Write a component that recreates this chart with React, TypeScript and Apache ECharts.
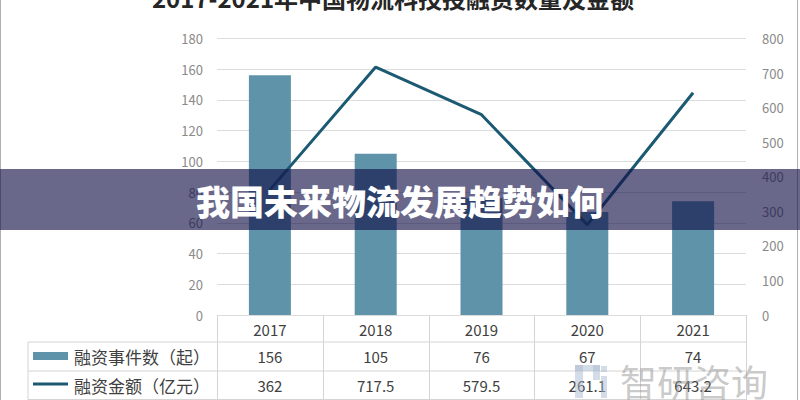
import React, { useEffect, useRef } from "react";
import * as echarts from "echarts";

const categories = ["2017", "2018", "2019", "2020", "2021"];
const eventCounts = [156, 105, 76, 67, 74];
const amounts = [362, 717.5, 579.5, 261.1, 643.2];
const amountLabels = ["362", "717.5", "579.5", "261.1", "643.2"];
const seriesNames = ["融资事件数（起）", "融资金额（亿元）"];
const titleText = "2017-2021年中国物流科技投融资数量及金额";
const bannerText = "我国未来物流发展趋势如何";
const watermarkText = "智研咨询";

const BAR_COLOR = "#5e93aa";
const LINE_COLOR = "#1b5a72";
const TABLE_LINE = "#d4d4d4";
const TEXT_COLOR = "#404040";
const FONT = "'Noto Sans CJK SC', 'Noto Sans', sans-serif";

export default function App() {
  const ref = useRef<HTMLDivElement>(null);
  useEffect(() => {
    if (!ref.current) return;
    const chart = echarts.init(ref.current, undefined, { renderer: "svg" });
    chart.setOption({
      animation: false,
      backgroundColor: "#ffffff",
      grid: { left: 217, right: 54, top: 38.5, bottom: 85, containLabel: false },
      xAxis: {
        type: "category",
        data: categories,
        axisLine: { show: false },
        axisTick: { show: false },
        axisLabel: { color: TEXT_COLOR, fontSize: 15, margin: 7, fontFamily: FONT },
      },
      yAxis: [
        {
          type: "value",
          min: 0,
          max: 180,
          interval: 20,
          axisLine: { show: false },
          axisTick: { show: false },
          axisLabel: { color: "#8a8a8a", fontSize: 13, margin: 14, fontFamily: FONT },
          splitLine: { lineStyle: { color: "#dcdcdc", width: 1 } },
        },
        {
          type: "value",
          min: 0,
          max: 800,
          interval: 100,
          axisLine: { show: false },
          axisTick: { show: false },
          axisLabel: { color: "#8a8a8a", fontSize: 13, margin: 16, fontFamily: FONT },
          splitLine: { show: false },
        },
      ],
      series: [
        {
          name: seriesNames[0],
          type: "bar",
          data: eventCounts,
          barWidth: 42,
          itemStyle: { color: BAR_COLOR },
          yAxisIndex: 0,
          z: 2,
        },
        {
          name: seriesNames[1],
          type: "line",
          data: amounts,
          yAxisIndex: 1,
          symbol: "none",
          lineStyle: { color: LINE_COLOR, width: 3 },
          z: 3,
        },
      ],
    });

    const centers = categories.map((c) => chart.convertToPixel({ xAxisIndex: 0 }, c) as number);
    const band = centers.length > 1 ? centers[1] - centers[0] : 106;
    const yTop = chart.convertToPixel({ yAxisIndex: 0 }, 0) as number;
    const xLeft = centers[0] - band / 2;
    const xRight = centers[centers.length - 1] + band / 2;
    const row1Top = 342;
    const row2Top = 371;
    const bottom = 399.5;
    const row1Y = 356;
    const row2Y = 385;

    const elements: any[] = [];
    [row1Top, row2Top, bottom].forEach((y) => {
      elements.push({
        type: "line",
        shape: { x1: 28, y1: y, x2: xRight, y2: y },
        style: { stroke: TABLE_LINE, lineWidth: 1 },
        z: 10,
      });
    });
    elements.push({
      type: "line",
      shape: { x1: 28, y1: row1Top, x2: 28, y2: 400 },
      style: { stroke: TABLE_LINE, lineWidth: 1 },
      z: 10,
    });
    for (let i = 0; i <= centers.length; i++) {
      const x = Math.round(xLeft + i * band) + 0.5;
      elements.push({
        type: "line",
        shape: { x1: x, y1: yTop, x2: x, y2: 400 },
        style: { stroke: TABLE_LINE, lineWidth: 1 },
        z: 10,
      });
    }
    elements.push({
      type: "rect",
      shape: { x: 33, y: 352, width: 35, height: 8 },
      style: { fill: BAR_COLOR },
      z: 10,
    });
    elements.push({
      type: "line",
      shape: { x1: 33, y1: row2Y - 1, x2: 68, y2: row2Y - 1 },
      style: { stroke: LINE_COLOR, lineWidth: 3 },
      z: 10,
    });
    elements.push({
      type: "text",
      x: 74,
      y: row1Y,
      style: { text: seriesNames[0], fill: TEXT_COLOR, font: `17px ${FONT}`, textVerticalAlign: "middle" },
      z: 10,
    });
    elements.push({
      type: "text",
      x: 74,
      y: row2Y,
      style: { text: seriesNames[1], fill: TEXT_COLOR, font: `17px ${FONT}`, textVerticalAlign: "middle" },
      z: 10,
    });
    centers.forEach((cx, i) => {
      elements.push({
        type: "text",
        x: cx,
        y: row1Y,
        style: {
          text: String(eventCounts[i]),
          fill: TEXT_COLOR,
          font: `15px ${FONT}`,
          textAlign: "center",
          textVerticalAlign: "middle",
        },
        z: 10,
      });
      elements.push({
        type: "text",
        x: cx,
        y: row2Y,
        style: {
          text: amountLabels[i],
          fill: TEXT_COLOR,
          font: `15px ${FONT}`,
          textAlign: "center",
          textVerticalAlign: "middle",
        },
        z: 10,
      });
    });
    elements.push({
      type: "text",
      x: 393,
      y: 9,
      style: {
        text: titleText,
        fill: "#262626",
        font: `bold 24px ${FONT}`,
        textAlign: "center",
        textVerticalAlign: "bottom",
      },
      z: 10,
    });
    elements.push({
      type: "line",
      shape: { x1: 0.5, y1: 0, x2: 0.5, y2: 400 },
      style: { stroke: "#b0b0b0", lineWidth: 1 },
      z: 10,
    });
    elements.push({
      type: "line",
      shape: { x1: 797.5, y1: 0, x2: 797.5, y2: 400 },
      style: { stroke: "#b0b0b0", lineWidth: 1 },
      z: 10,
    });
    const logoFill = "rgba(170,185,210,0.5)";
    [
      { x: 575, y: 365, width: 8, height: 33 },
      { x: 575, y: 365, width: 25, height: 6 },
      { x: 593, y: 365, width: 7, height: 15 },
      { x: 601, y: 376, width: 6, height: 22 },
      { x: 601, y: 366, width: 6, height: 6 },
    ].forEach((r) => {
      elements.push({ type: "rect", shape: r, style: { fill: logoFill }, z: 11 });
    });
    elements.push({
      type: "text",
      x: 620,
      y: 381,
      style: {
        text: watermarkText,
        fill: "rgba(150,150,150,0.5)",
        font: `37px ${FONT}`,
        textVerticalAlign: "middle",
      },
      z: 11,
    });
    elements.push({
      type: "rect",
      shape: { x: 0, y: 169, width: 800, height: 61 },
      style: { fill: "rgba(18,15,69,0.63)" },
      z: 20,
    });
    elements.push({
      type: "text",
      x: 400,
      y: 200,
      style: {
        text: bannerText,
        fill: "#ffffff",
        font: `900 34px ${FONT}`,
        textAlign: "center",
        textVerticalAlign: "middle",
      },
      z: 21,
    });

    chart.setOption({ graphic: { elements } });
    return () => chart.dispose();
  }, []);
  return (
    <div
      ref={ref}
      style={{ position: "fixed", left: 0, top: 0, width: 800, height: 400 }}
    />
  );
}
